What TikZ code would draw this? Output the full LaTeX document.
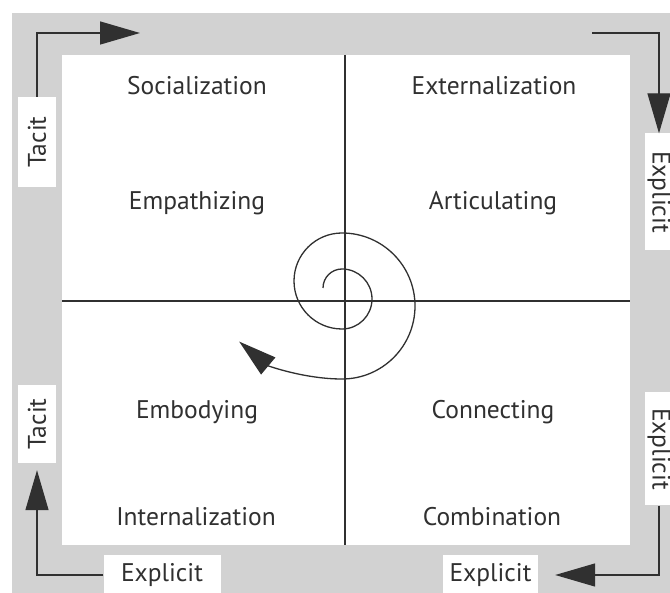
\documentclass[tikz,border=0pt]{standalone}
\usepackage{fontspec}
\setmainfont{PT Sans}
\usetikzlibrary{arrows.meta}
\definecolor{ink}{HTML}{303030}
\definecolor{bg}{HTML}{D2D2D2}
\begin{document}
\begin{tikzpicture}[x=1pt,y=-1pt,
  quad/.style={font=\fontsize{25.5}{30}\selectfont, text=ink, inner sep=0pt, anchor=base},
  lab/.style={font=\fontsize{25.5}{30}\selectfont, text=ink, fill=white, inner sep=0pt},
  conn/.style={draw=ink, line width=1.4pt, -{Triangle[length=40pt,width=23pt]}},
  axis/.style={draw=ink, line width=1.3pt}]
\useasboundingbox (0,0) rectangle (670,593);
\fill[bg] (12,13) rectangle (670,593);
\fill[white] (62,55) rectangle (630,545);
% axes
\coordinate (vt) at (345,55);
\coordinate (vb) at (345,545);
\coordinate (hl) at (62,301);
\coordinate (hr) at (630,301);
\draw[axis] (vt) -- (vb);
\draw[axis] (hl) -- (hr);
% quadrant texts
\node[quad] (soc) at (197,95) {Socialization};
\node[quad] (emp) at (197,210) {Empathizing};
\node[quad] (ext) at (494,95) {Externalization};
\node[quad] (art) at (493,210) {Articulating};
\node[quad] (emb) at (197,419) {Embodying};
\node[quad] (con) at (493,419) {Connecting};
\node[quad] (int) at (196,526) {Internalization};
\node[quad] (com) at (492,526) {Combination};
% side labels
\node[lab, minimum width=38pt, minimum height=90pt] (tacitTL) at (37,142) {\rotatebox[origin=c]{90}{Tacit}};
\node[lab, minimum width=38pt, minimum height=78pt] (tacitBL) at (37,424) {\rotatebox[origin=c]{90}{Tacit}};
\node[lab, minimum width=28pt, minimum height=117pt] (explTR) at (659,192) {\rotatebox[origin=c]{-90}{Explicit}};
\node[lab, minimum width=28pt, minimum height=113pt] (explBR) at (659,449) {\rotatebox[origin=c]{-90}{Explicit}};
\node[lab, minimum width=117pt, minimum height=40pt] (explB1) at (162,575) {Explicit};
\node[lab, minimum width=95pt, minimum height=40pt] (explB2) at (490.5,575) {Explicit};
% corner connectors
\coordinate (tl) at (140,33);
\coordinate (tr) at (592,33);
\draw[conn] (tacitTL.north) |- (tl);
\draw[conn] (tr) -| (explTR.north);
\draw[conn, shorten >=17pt] (explBR.south) |- (explB2.east);
\draw[conn, shorten >=7pt] (explB1.west) -| (tacitBL.south);
% spiral
\draw[ink, line width=1.3pt, -{Triangle[length=38pt,width=22pt]}]
  (323,288) arc[start angle=180, end angle=270, radius=19]
  arc[start angle=-90, end angle=90, radius=30]
  arc[start angle=90, end angle=270, radius=48]
  arc[start angle=-90, end angle=90, radius=73]
  arc[start angle=90, end angle=130, radius=160];
\end{tikzpicture}
\end{document}
